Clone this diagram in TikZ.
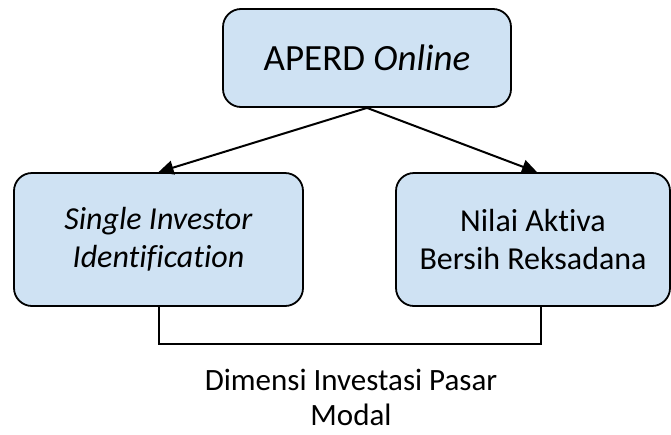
\documentclass[tikz,border=0pt]{standalone}
\usepackage{fontspec}
\setmainfont{Carlito}[Ligatures=NoCommon]
\usepackage{tikz}
\usetikzlibrary{arrows.meta}
\definecolor{bleuboite}{RGB}{207,226,243}

\begin{document}
\begin{tikzpicture}[x=1pt,y=-1pt,
    boite/.style={draw, line width=1.8pt, fill=bleuboite, rounded corners=18pt, inner sep=0pt, align=center},
    fleche/.style={line width=2pt, -{Triangle[length=15pt,width=14pt]}}]
    % cadre
    \useasboundingbox (0,0) rectangle (671,434);
    % boites
    \node[boite, minimum width=288pt, minimum height=98pt, font=\fontsize{37}{45}\selectfont] (aperd) at (367,58) {APERD \textit{Online}};
    \node[boite, minimum width=289pt, minimum height=133pt, font=\fontsize{32}{38}\selectfont] (sid) at (158.5,239.5) {\textit{Single Investor}\\\textit{Identification}};
    \node[boite, minimum width=274pt, minimum height=133pt, font=\fontsize{32}{38}\selectfont] (nab) at (533,239.5) {Nilai Aktiva\\Bersih Reksadana};
    % fleches
    \draw[fleche] (aperd.south) -- (sid.north);
    \draw[fleche] (aperd.south) -- ([xshift=4pt]nab.north);
    % crochet
    \draw[line width=2pt] (sid.south) -- ++(0,37) -| ([xshift=8pt]nab.south);
    \node[anchor=base, align=center, font=\fontsize{31}{35}\selectfont] (dim) at (351,425) {Dimensi Investasi Pasar\\Modal};
\end{tikzpicture}
\end{document}
